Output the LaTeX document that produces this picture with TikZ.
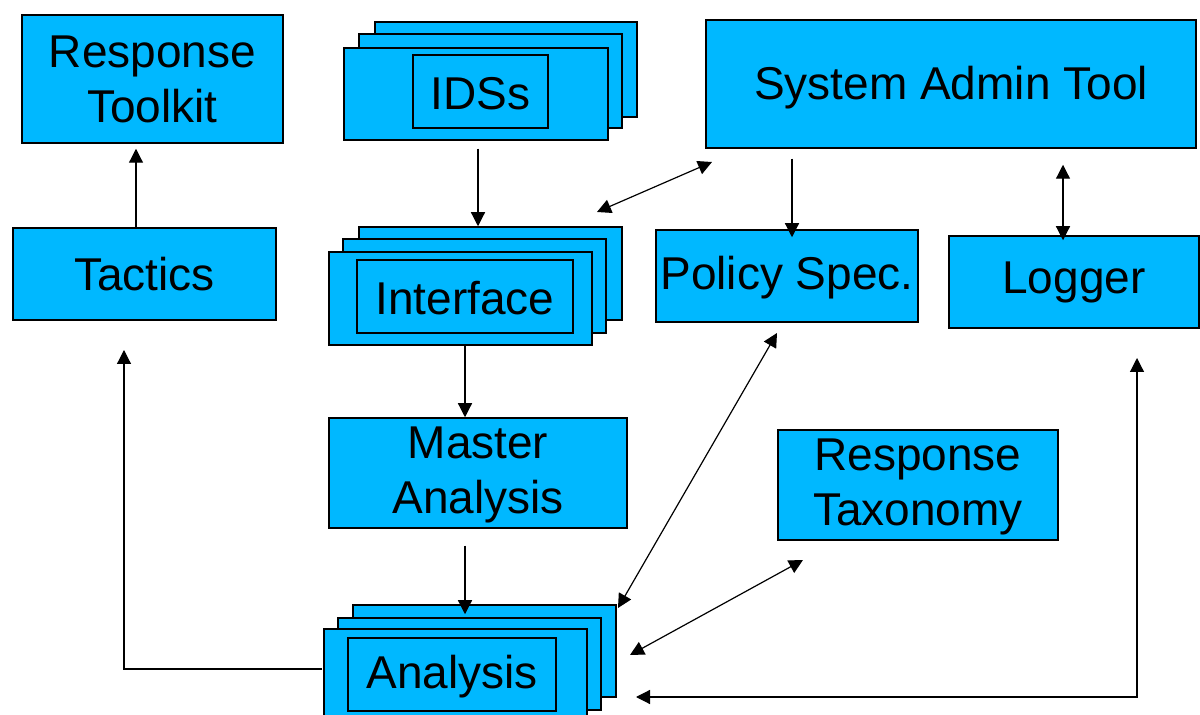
\documentclass[tikz,border=0pt]{standalone}
\usepackage{fontspec}
\setmainfont{Liberation Sans}
\usetikzlibrary{fit,arrows.meta}
\definecolor{boxblue}{RGB}{0,184,255}
\tikzset{
  box/.style={draw=black, fill=boxblue, line width=0.75pt, inner sep=0pt},
  lbl/.style={inner sep=0pt, align=center, font=\fontsize{23}{27.5}\selectfont},
  tip/.tip={Triangle[length=7pt,width=7pt]},
  arr/.style={-tip, line width=0.6pt},
  darr/.style={tip-tip, line width=0.6pt},
}
\begin{document}
\begin{tikzpicture}[x=0.5pt,y=-0.5pt]
\clip (0,0) rectangle (1200,715);
\fill[white] (0,0) rectangle (1200,715);

% single boxes
\node[box, fit={(22,15)(283,143)}] (rt) {};
\node[box, fit={(13,228)(276,320)}] (tac) {};
\node[box, fit={(706,20)(1196,148)}] (sat) {};
\node[box, fit={(656,230)(918,322)}] (pol) {};
\node[box, fit={(949,236)(1199,328)}] (log) {};
\node[box, fit={(329,418)(627,528)}] (mas) {};
\node[box, fit={(778,430)(1058,540)}] (tax) {};

% IDSs stack
\node[box, fit={(375,22)(637,117)}] (ids1) {};
\node[box, fit={(359,34)(622,128)}] (ids2) {};
\node[box, fit={(344,48)(608,140)}] (ids3) {};
\node[box, fit={(413,55)(548,128)}] (ids) {};

% Interface stack
\node[box, fit={(359,227)(622,320)}] (int1) {};
\node[box, fit={(343,239)(606,333)}] (int2) {};
\node[box, fit={(329,252)(592,345)}] (int3) {};
\node[box, fit={(357,260)(573,333)}] (int) {};

% Analysis stack
\node[box, fit={(353,605)(616,697)}] (an1) {};
\node[box, fit={(338,618)(601,710)}] (an2) {};
\node[box, fit={(324,629)(587,722)}] (an3) {};
\node[box, fit={(348,638)(556,711)}] (an) {};

% labels
\node[lbl] (rtT) at (rt.center) {Response\\Toolkit};
\node[lbl] (tacT) at (tac.center) {Tactics};
\node[lbl] (satT) at ([yshift=-2pt]sat.center) {System Admin Tool};
\node[lbl] (polT) at ([yshift=-1pt]pol.center) {Policy Spec.};
\node[lbl] (logT) at (log.center) {Logger};
\node[lbl] (masT) at ([yshift=-1pt]mas.center) {Master\\Analysis};
\node[lbl] (taxT) at ([yshift=-1pt]tax.center) {Response\\Taxonomy};
\node[lbl] (idsT) at ([yshift=-1pt]ids.center) {IDSs};
\node[lbl] (intT) at ([yshift=-1pt]int.center) {Interface};
\node[lbl] (anT0) at ([yshift=-1pt]an.center) {Analysis};

% helper coordinates
\coordinate (x136) at (136,0);
\coordinate (x478) at (478,0);
\coordinate (x465) at (465,0);
\coordinate (x792) at (792,0);
\coordinate (x1063) at (1063,0);
\coordinate (saA) at (712,162);
\coordinate (intA) at (597,212);
\coordinate (polA) at (777,333);
\coordinate (anP) at (618,608);
\coordinate (taxA) at (803,560);
\coordinate (anT) at (630,655);
\coordinate (logA) at (1137,358);
\coordinate (logC) at (1137,697);
\coordinate (anL) at (636,697);
\coordinate (anW) at (322,669);
\coordinate (tacC) at (124,669);
\coordinate (tacA) at (124,350);

% connectors
\draw[arr, shorten >=2.5pt] (tac.north -| x136) -- (rt.south -| x136);
\draw[arr, shorten <=4pt] (ids3.south -| x478) -- (int1.north -| x478);
\draw[arr] (int3.south -| x465) -- (mas.north -| x465);
\draw[arr, shorten <=8.5pt, shorten >=-5pt] (mas.south -| x465) -- (an1.north -| x465);
\draw[darr] (intA) -- (saA);
\draw[arr, shorten <=5pt, shorten >=-4pt] (sat.south -| x792) -- (pol.north -| x792);
\draw[darr, shorten <=8pt, shorten >=-2.5pt] (sat.south -| x1063) -- (log.north -| x1063);
\draw[darr] (polA) -- (anP);
\draw[darr] (taxA) -- (anT);
\draw[darr] (anL) -- (logC) -- (logA);
\draw[arr] (anW) -- (tacC) -- (tacA);
\end{tikzpicture}
\end{document}
